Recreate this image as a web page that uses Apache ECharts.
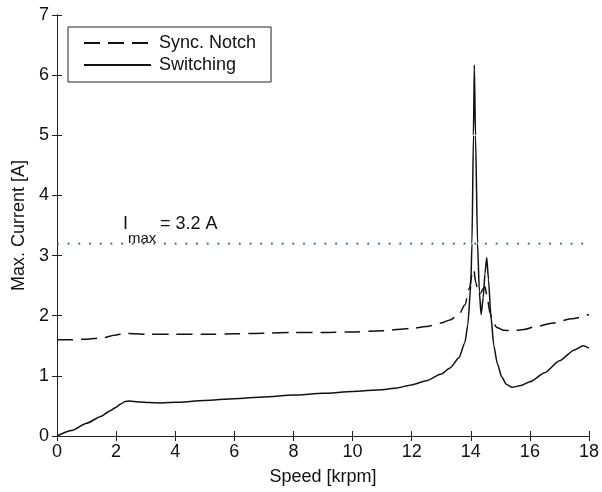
<!DOCTYPE html>
<html>
<head>
<meta charset="utf-8">
<script src="https://cdn.jsdelivr.net/npm/echarts@6/dist/echarts.min.js"></script>
<style>html,body{margin:0;padding:0;background:#fff}#c{width:602px;height:492px}</style>
</head>
<body>
<div id="c"></div>
<script>
// ---- data ----
var xTicks = [0, 2, 4, 6, 8, 10, 12, 14, 16, 18];
var yTicks = [0, 1, 2, 3, 4, 5, 6, 7];

var speedSwitching = [0, 0.5, 1.0, 1.5, 1.8, 2.0, 2.15, 2.3, 2.45, 2.6, 2.8, 3.1, 3.5, 4, 5, 6, 7, 8, 9, 10, 11, 11.5, 12, 12.5, 13, 13.3, 13.6, 13.8, 13.9, 14.0, 14.04, 14.09, 14.12, 14.16, 14.23, 14.29, 14.35, 14.42, 14.48, 14.54, 14.6, 14.68, 14.78, 14.9, 15.05, 15.2, 15.4, 15.7, 16, 16.5, 17, 17.5, 17.8, 18];
var currentSwitching = [0, 0.09, 0.21, 0.33, 0.42, 0.48, 0.53, 0.575, 0.58, 0.575, 0.565, 0.555, 0.55, 0.56, 0.59, 0.62, 0.65, 0.68, 0.71, 0.74, 0.77, 0.8, 0.85, 0.92, 1.03, 1.13, 1.3, 1.55, 1.85, 2.5, 3.2, 5.0, 6.17, 5.0, 3.2, 2.4, 2.02, 2.3, 2.7, 2.97, 2.6, 2.0, 1.5, 1.2, 0.98, 0.86, 0.81, 0.84, 0.9, 1.05, 1.25, 1.43, 1.5, 1.46];

var speedNotch = [0, 0.5, 1, 1.5, 2, 2.3, 2.6, 3, 4, 5, 6, 7, 8, 9, 10, 11, 12, 12.5, 13, 13.3, 13.6, 13.8, 13.95, 14.05, 14.1, 14.17, 14.25, 14.33, 14.42, 14.48, 14.55, 14.65, 14.75, 14.9, 15.1, 15.4, 15.8, 16.2, 16.8, 17.4, 18];
var currentNotch = [1.6, 1.6, 1.61, 1.63, 1.68, 1.71, 1.7, 1.69, 1.69, 1.69, 1.7, 1.71, 1.72, 1.72, 1.73, 1.75, 1.79, 1.82, 1.88, 1.93, 2.02, 2.18, 2.45, 2.7, 2.77, 2.55, 2.38, 2.37, 2.45, 2.48, 2.33, 2.05, 1.88, 1.8, 1.76, 1.75, 1.77, 1.82, 1.88, 1.95, 2.02];

var imaxSpeed = [0, 18];
var imaxLevel = 3.2;

// ---- chart ----
function zip(xs, ys) { return xs.map(function (x, i) { return [x, ys[i]]; }); }
var FONT = 'Liberation Sans, Arial, Helvetica, sans-serif';
var chart = echarts.init(document.getElementById('c'), null, { renderer: 'canvas' });

var axisLine = { show: true, lineStyle: { color: '#222', width: 1 } };
var tickIn = { show: true, inside: true, length: 5, lineStyle: { color: '#222', width: 1 } };

chart.setOption({
  animation: false,
  backgroundColor: '#fff',
  grid: { left: 57, right: 11, top: 15, bottom: 56, containLabel: false },
  legend: {
    data: ['Sync. Notch', 'Switching'],
    orient: 'vertical',
    left: 68, top: 27,
    padding: [7, 15, 8, 15],
    itemGap: 4,
    itemWidth: 67,
    itemHeight: 18,
    borderColor: '#222', borderWidth: 1, backgroundColor: '#fff',
    selectedMode: false,
    itemStyle: { opacity: 0 },
    textStyle: { fontFamily: FONT, fontSize: 18, color: '#111', padding: [0, 0, 0, 3] }
  },
  xAxis: [{
    type: 'value', min: xTicks[0], max: xTicks[xTicks.length - 1], interval: 2,
    axisLine: axisLine, axisTick: tickIn, splitLine: { show: false },
    axisLabel: { fontFamily: FONT, fontSize: 18, color: '#111', margin: 7 },
    name: 'Speed [krpm]', nameLocation: 'middle', nameGap: 32,
    nameTextStyle: { fontFamily: FONT, fontSize: 18, color: '#111' }
  }, {
    type: 'value', position: 'top', min: xTicks[0], max: xTicks[xTicks.length - 1], interval: 2,
    axisLine: axisLine, axisTick: tickIn, axisLabel: { show: false }, splitLine: { show: false }
  }],
  yAxis: [{
    type: 'value', min: yTicks[0], max: yTicks[yTicks.length - 1], interval: 1,
    axisLine: axisLine, axisTick: tickIn, splitLine: { show: false },
    axisLabel: { fontFamily: FONT, fontSize: 18, color: '#111', margin: 8 },
    name: 'Max. Current [A]', nameLocation: 'middle', nameGap: 22,
    nameTextStyle: { fontFamily: FONT, fontSize: 18, color: '#111' }
  }, {
    type: 'value', position: 'right', min: yTicks[0], max: yTicks[yTicks.length - 1], interval: 1,
    axisLine: axisLine, axisTick: tickIn, axisLabel: { show: false }, splitLine: { show: false }
  }],
  series: [{
    name: 'Sync. Notch', type: 'line', data: zip(speedNotch, currentNotch),
    showSymbol: false, symbol: 'none', smooth: 0.3, smoothMonotone: 'x',
    lineStyle: { color: '#111', width: 1.5, type: [16, 8] },
    itemStyle: { color: '#111' }
  }, {
    name: 'Switching', type: 'line', data: zip(speedSwitching, currentSwitching),
    showSymbol: false, symbol: 'none', smooth: 0.2, smoothMonotone: 'x',
    lineStyle: { color: '#111', width: 1.5, type: 'solid' },
    itemStyle: { color: '#111' }
  }, {
    name: 'Imax', type: 'line', data: imaxSpeed.map(function (x) { return [x, imaxLevel]; }),
    showSymbol: false, symbol: 'none', silent: true,
    lineStyle: { color: '#3a4a86', width: 1.8, type: [1.8, 8.9] }
  }],
  graphic: [
    { type: 'text', left: 123, top: 215, style: { text: 'I', font: '18px ' + FONT, fill: '#111' } },
    { type: 'text', left: 128, top: 231, style: { text: 'max', font: '15px ' + FONT, fill: '#111' } },
    { type: 'text', left: 160, top: 215, style: { text: '= 3.2 A', font: '18px ' + FONT, fill: '#111' } }
  ]
});
</script>
</body>
</html>
